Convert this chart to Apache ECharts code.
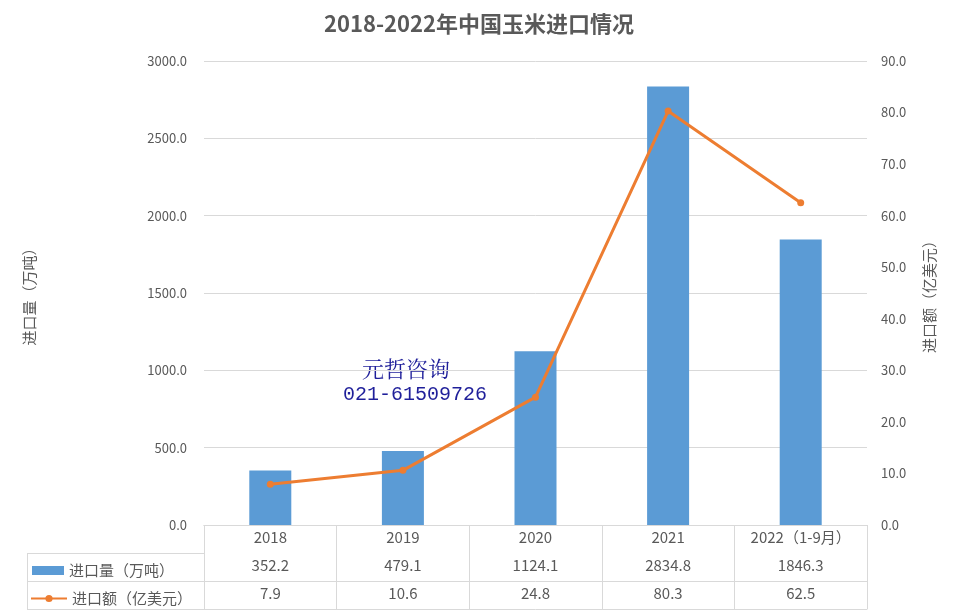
<!DOCTYPE html>
<html>
<head>
<meta charset="utf-8">
<script src="https://cdn.jsdelivr.net/npm/echarts@6/dist/echarts.min.js"></script>
<style>html,body{margin:0;padding:0;background:#fff}#c{width:958px;height:615px}</style>
</head>
<body>
<div id="c"></div>
<script>
var categories = ['2018', '2019', '2020', '2021', '2022（1-9月）'];
var volume = [352.2, 479.1, 1124.1, 2834.8, 1846.3];
var amount = [7.9, 10.6, 24.8, 80.3, 62.5];
var leftTicks = { min: 0, max: 3000, interval: 500 };
var rightTicks = { min: 0, max: 90, interval: 10 };
var volName = '进口量（万吨）';
var amtName = '进口额（亿美元）';

var FONT = '"Noto Sans CJK SC", "Noto Sans", sans-serif';
var GRAY = '#595959';
var LINE = '#d9d9d9';

var chart = echarts.init(document.getElementById('c'));
function tableAxis(offset, values, showLabel) {
  return {
    type: 'category', gridIndex: 0, position: 'bottom', offset: offset,
    data: categories,
    axisLine: { show: true, lineStyle: { color: LINE, width: 1 } },
    axisTick: { show: false },
    axisLabel: {
      show: showLabel, interval: 0, margin: 5, color: GRAY, fontSize: 15, fontFamily: FONT,
      formatter: function (v, i) { return values ? values[i].toFixed(1) : v; }
    }
  };
}
var option = {
  animation: false,
  backgroundColor: '#fff',
  title: {
    text: '2018-2022年中国玉米进口情况', left: 'center', top: 8,
    textStyle: { color: GRAY, fontSize: 22, fontWeight: 'bold', fontFamily: FONT }
  },
  legend: [
    { data: [{ name: volName, icon: 'rect' }], left: 27, top: 558, itemWidth: 32, itemHeight: 9, itemGap: 4,
      textStyle: { color: GRAY, fontSize: 15, fontFamily: FONT }, selectedMode: false },
    { data: [amtName], left: 25, top: 586, itemWidth: 36, itemHeight: 9, itemGap: 2,
      textStyle: { color: GRAY, fontSize: 15, fontFamily: FONT }, selectedMode: false }
  ],
  grid: { left: 204, right: 91, top: 61, bottom: 90 },
  xAxis: [
    {
      type: 'category', data: categories, position: 'bottom',
      axisLine: { show: true, lineStyle: { color: LINE } },
      axisTick: { show: true, alignWithLabel: false, interval: 0, length: 84, lineStyle: { color: LINE } },
      axisLabel: { interval: 0, margin: 5, color: GRAY, fontSize: 15, fontFamily: FONT }
    },
    tableAxis(28, volume, true),
    tableAxis(56, amount, true),
    tableAxis(84, null, false)
  ],
  yAxis: [
    {
      type: 'value', min: leftTicks.min, max: leftTicks.max, interval: leftTicks.interval,
      name: volName, nameLocation: 'middle', nameRotate: 90, nameGap: 167,
      nameTextStyle: { color: GRAY, fontSize: 15, fontFamily: FONT },
      axisLine: { show: false }, axisTick: { show: false },
      axisLabel: { color: GRAY, fontSize: 13, fontFamily: FONT, margin: 17, formatter: function (v) { return v.toFixed(1); } },
      splitLine: { lineStyle: { color: LINE } }
    },
    {
      type: 'value', min: rightTicks.min, max: rightTicks.max, interval: rightTicks.interval,
      name: amtName, nameLocation: 'middle', nameRotate: 90, nameGap: 55,
      nameTextStyle: { color: GRAY, fontSize: 15, fontFamily: FONT },
      axisLine: { show: false }, axisTick: { show: false },
      axisLabel: { color: GRAY, fontSize: 13, fontFamily: FONT, margin: 14, formatter: function (v) { return v.toFixed(1); } },
      splitLine: { show: false }
    }
  ],
  series: [
    { name: volName, type: 'bar', data: volume, barWidth: 42, yAxisIndex: 0, itemStyle: { color: '#5b9bd5' } },
    { name: amtName, type: 'line', data: amount, yAxisIndex: 1, symbol: 'circle', symbolSize: 7,
      lineStyle: { color: '#ed7d31', width: 3 }, itemStyle: { color: '#ed7d31' } }
  ],
  graphic: [
    { type: 'line', shape: { x1: 27, y1: 553.5, x2: 204, y2: 553.5 }, style: { stroke: LINE, lineWidth: 1 } },
    { type: 'line', shape: { x1: 27, y1: 581.5, x2: 204, y2: 581.5 }, style: { stroke: LINE, lineWidth: 1 } },
    { type: 'line', shape: { x1: 27, y1: 609.5, x2: 204, y2: 609.5 }, style: { stroke: LINE, lineWidth: 1 } },
    { type: 'line', shape: { x1: 27.5, y1: 553, x2: 27.5, y2: 610 }, style: { stroke: LINE, lineWidth: 1 } },
    { type: 'text', left: 362, top: 358, style: { text: '元哲咨询', fill: '#1f1f9a', font: '22px "Noto Serif CJK SC", "Noto Sans CJK SC", serif' } },
    { type: 'text', left: 343, top: 385, style: { text: '021-61509726', fill: '#1f1f9a', font: '20px "Liberation Mono", "DejaVu Sans Mono", monospace' } }
  ]
};
chart.setOption(option);
</script>
</body>
</html>
